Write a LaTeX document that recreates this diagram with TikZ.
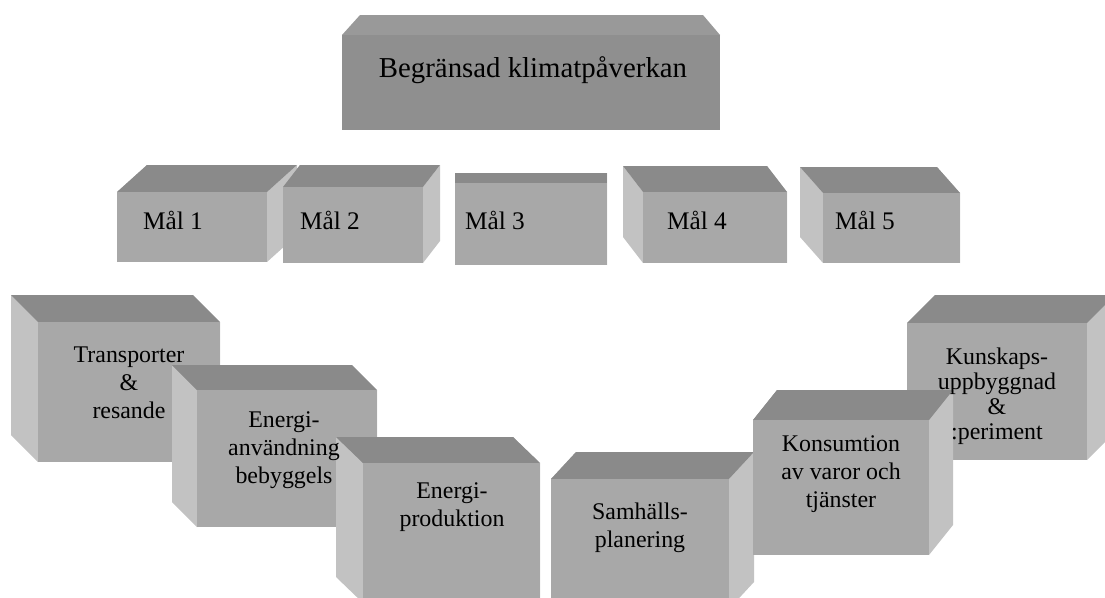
\documentclass[tikz,border=0pt]{standalone}
\usepackage{fontspec}
\setmainfont{Liberation Serif}

\begin{document}
\begin{tikzpicture}[x=0.025cm,y=-0.025cm,
  frontface/.style={fill=black!34},
  topface/.style={fill=black!46},
  sideface/.style={fill=black!24},
  head/.style={font=\fontsize{20.5}{24}\selectfont},
  goal/.style={font=\fontsize{18}{21}\selectfont},
  area/.style={align=center, font=\fontsize{17}{19.9}\selectfont}]
  \useasboundingbox (0,0) rectangle (1105,598);
  % top block
  \fill[black!40] (342,35) -- (360,15) -- (703,15) -- (720,35) -- cycle;
  \fill[black!44] (342,35) rectangle (720,130);
  \node[head] (top) at (533,70) {Begränsad klimatpåverkan};
  % blocks: front corner x/y, width/height, depth dx/dy
  \foreach \x/\y/\w/\h/\dx/\dy in {117/192/150/70/30/-27, 283/187/140/76/17/-22,
      455/183/152/82/0/-10, 643/192/144/71/-20/-26, 823/193/137/70/-23/-26,
      38/322/182/140/-27/-27, 197/390/180/137/-25/-25, 363/463/177/140/-27/-26,
      907/323/180/137/28/-28, 551/479/178/130/25/-27, 753/420/176/135/24/-30}{
    \fill[sideface] (\x,\y) -- ({\x+(\dx)},{\y+(\dy)}) -- ({\x+(\dx)},{\y+\h+(\dy)}) -- (\x,{\y+\h}) -- cycle;
    \fill[sideface] ({\x+\w},\y) -- ({\x+\w+(\dx)},{\y+(\dy)}) -- ({\x+\w+(\dx)},{\y+\h+(\dy)}) -- ({\x+\w},{\y+\h}) -- cycle;
    \fill[topface] (\x,\y) -- ({\x+(\dx)},{\y+(\dy)}) -- ({\x+\w+(\dx)},{\y+(\dy)}) -- ({\x+\w},\y) -- cycle;
    \fill[frontface] (\x,\y) rectangle ++(\w,\h);
  }
  % goals
  \foreach \n/\x in {1/173,2/330,3/495,4/697,5/865}
    \node[goal] (mal\n) at (\x,220) {Mål \n};
  % areas
  \node[area] (transport) at (129,383) {Transporter\\\&\\resande};
  \node[area] (energiuse) at (284,450) {Energi-\\användning\\bebyggels};
  \node[area] (energiprod) at (452,507) {Energi-\\produktion};
  \node[area] (planning) at (640,528) {Samhälls-\\planering};
  \node[area] (consume) at (841,474) {Konsumtion\\av varor och\\tjänster};
  \node[area, font=\fontsize{17}{17.8}\selectfont] (knowledge) at (997,396) {Kunskaps-\\uppbyggnad\\\&\\:periment};
\end{tikzpicture}
\end{document}
